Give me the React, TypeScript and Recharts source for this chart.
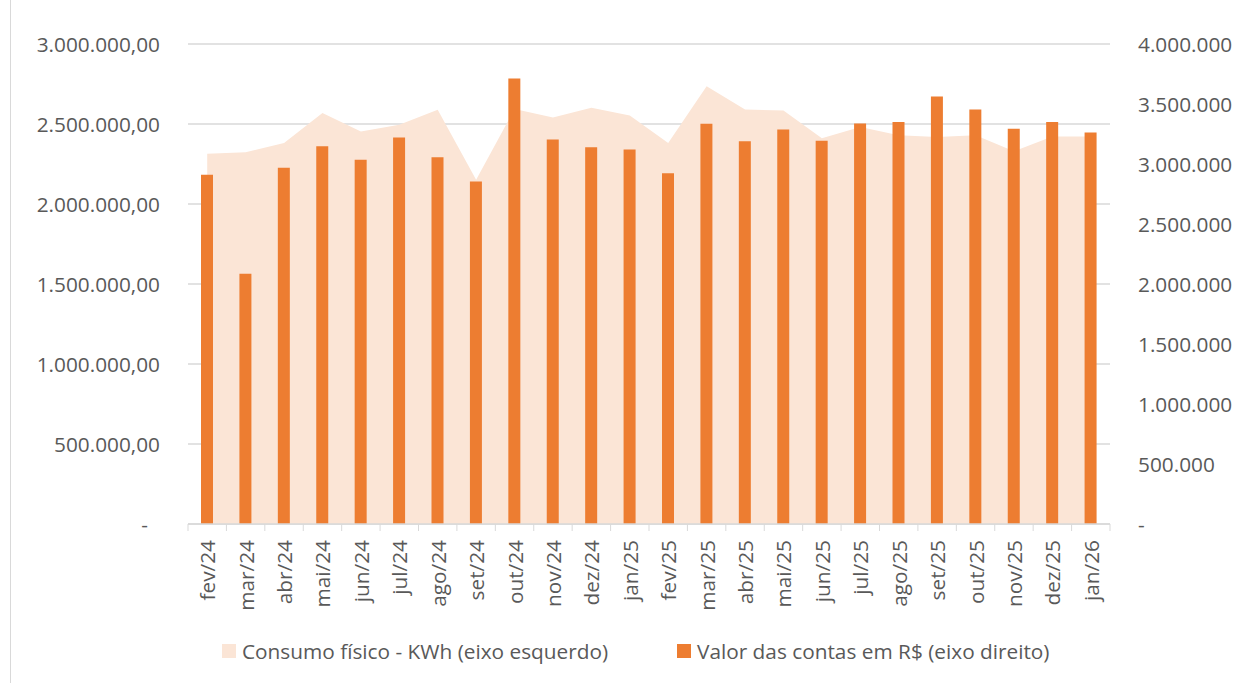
import React from 'react';
import { ComposedChart, Area, Bar, XAxis, YAxis, CartesianGrid } from 'recharts';

const months = [
  'fev/24', 'mar/24', 'abr/24', 'mai/24', 'jun/24', 'jul/24', 'ago/24', 'set/24',
  'out/24', 'nov/24', 'dez/24', 'jan/25', 'fev/25', 'mar/25', 'abr/25', 'mai/25',
  'jun/25', 'jul/25', 'ago/25', 'set/25', 'out/25', 'nov/25', 'dez/25', 'jan/26',
];

// consumo físico em kWh (eixo esquerdo)
const consumoKwh = [
  2314000, 2324000, 2382000, 2568000, 2453000, 2495000, 2589000, 2151000,
  2593000, 2541000, 2601000, 2553000, 2382000, 2736000, 2591000, 2584000,
  2411000, 2482000, 2430000, 2418000, 2430000, 2330000, 2422000, 2422000,
];

// valor das contas em R$ (eixo direito)
const valorContas = [
  2910000, 2085000, 2968000, 3148000, 3035000, 3221000, 3057000, 2854000,
  3712000, 3204000, 3140000, 3121000, 2923000, 3335000, 3190000, 3287000,
  3193000, 3337000, 3351000, 3562000, 3454000, 3293000, 3351000, 3262000,
];

const leftTicks = [0, 500000, 1000000, 1500000, 2000000, 2500000, 3000000];
const rightTicks = [0, 500000, 1000000, 1500000, 2000000, 2500000, 3000000, 3500000, 4000000];

const data = months.map((m, i) => ({ month: m, consumo: consumoKwh[i], valor: valorContas[i] }));

const FONT = '"Open Sans", "Noto Sans", sans-serif';
const FONT_SIZE = 20.8;
const TEXT = '#595959';
const GRID = '#d9d9d9';
const AREA_FILL = '#fbe5d6';
const BAR_FILL = '#ed7d31';

const PLOT_W = 1244 - 188 - 134;
const STEP = PLOT_W / months.length;

const groupThousands = (n: number) => String(Math.round(n)).replace(/\B(?=(\d{3})+(?!\d))/g, '.');

const LeftTick = (props: any) => {
  const { x, y, payload } = props;
  const v = payload.value;
  return (
    <text x={v === 0 ? x - 12 : x} y={y} textAnchor="end" dominantBaseline="central" fill={TEXT} fontSize={FONT_SIZE} fontFamily={FONT}>
      {v === 0 ? '-' : `${groupThousands(v)},00`}
    </text>
  );
};

const RightTick = (props: any) => {
  const { x, y, payload } = props;
  const v = payload.value;
  return (
    <text x={x} y={y} textAnchor="start" dominantBaseline="central" fill={TEXT} fontSize={FONT_SIZE} fontFamily={FONT}>
      {v === 0 ? '-' : groupThousands(v)}
    </text>
  );
};

const MonthTick = (props: any) => {
  const { x, y, payload, index } = props;
  const last = index === months.length - 1;
  return (
    <g>
      <line x1={x - STEP / 2} y1={y} x2={x - STEP / 2} y2={y + 7} stroke={GRID} />
      {last && <line x1={x + STEP / 2} y1={y} x2={x + STEP / 2} y2={y + 7} stroke={GRID} />}
      <text
        x={x}
        y={y + 16}
        transform={`rotate(-90, ${x}, ${y + 16})`}
        textAnchor="end"
        dominantBaseline="central"
        fill={TEXT}
        fontSize={FONT_SIZE}
        fontFamily={FONT}
      >
        {payload.value}
      </text>
    </g>
  );
};

const legendItem = (color: string, label: string, left: number) => (
  <div style={{ position: 'absolute', left, top: 637, display: 'flex', alignItems: 'center', fontFamily: FONT, fontSize: FONT_SIZE, color: TEXT, whiteSpace: 'nowrap' }}>
    <span style={{ display: 'inline-block', width: 14, height: 14, background: color, marginRight: 6 }} />
    <span>{label}</span>
  </div>
);

export default function App() {
  return (
    <div style={{ position: 'absolute', left: 0, top: 0, width: 1244, height: 683, background: '#fff', overflow: 'hidden' }}>
      <div style={{ position: 'absolute', left: 10, top: 0, width: 1, height: 683, background: GRID }} />
      <ComposedChart width={1244} height={683} data={data} margin={{ top: 44, right: 0, bottom: 0, left: 0 }}>
        <CartesianGrid yAxisId="left" vertical={false} stroke={GRID} strokeWidth={1.5} />
        <XAxis
          dataKey="month"
          height={159}
          interval={0}
          tickLine={false}
          tickSize={0}
          tickMargin={0}
          axisLine={{ stroke: GRID, strokeWidth: 1.5 }}
          tick={<MonthTick />}
        />
        <YAxis
          yAxisId="left"
          orientation="left"
          width={188}
          domain={[0, 3000000]}
          ticks={leftTicks}
          interval={0}
          axisLine={false}
          tickLine={false}
          tickSize={0}
          tickMargin={28}
          tick={<LeftTick />}
        />
        <YAxis
          yAxisId="right"
          orientation="right"
          width={134}
          domain={[0, 4000000]}
          ticks={rightTicks}
          interval={0}
          axisLine={false}
          tickLine={false}
          tickSize={0}
          tickMargin={28}
          tick={<RightTick />}
        />
        <Area
          yAxisId="left"
          type="linear"
          dataKey="consumo"
          name="Consumo físico - KWh (eixo esquerdo)"
          stroke="none"
          fill={AREA_FILL}
          fillOpacity={1}
          isAnimationActive={false}
        />
        <Bar
          yAxisId="right"
          dataKey="valor"
          name="Valor das contas em R$ (eixo direito)"
          fill={BAR_FILL}
          barSize={12}
          isAnimationActive={false}
        />
      </ComposedChart>
      {legendItem(AREA_FILL, 'Consumo físico - KWh (eixo esquerdo)', 222)}
      {legendItem(BAR_FILL, 'Valor das contas em R$ (eixo direito)', 677)}
    </div>
  );
}
